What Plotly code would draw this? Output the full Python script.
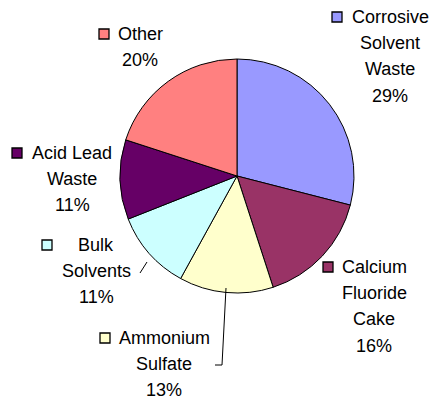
import plotly.graph_objects as go

W, H = 435, 402

LABELS = ["Corrosive Solvent Waste", "Calcium Fluoride Cake", "Ammonium Sulfate",
          "Bulk Solvents", "Acid Lead Waste", "Other"]
VALUES = [29, 16, 13, 11, 11, 20]
COLORS = ["#9999FF", "#993366", "#FFFFCC", "#CCFFFF", "#660066", "#FF8080"]

# label layout: text lines, centre x, first line y (pixels), key square x
LABEL_LINES = [
    ["Corrosive", "Solvent", "Waste"],
    ["Calcium", "Fluoride", "Cake"],
    ["Ammonium", "Sulfate"],
    ["Bulk", "Solvents"],
    ["Acid Lead", "Waste"],
    ["Other"],
]
LABEL_POS = [(390, 17, 337), (374, 267, 328), (164, 338, 105),
             (96, 245, 47), (72, 153, 17), (140, 34, 104)]
LINE_H = 26.2


def px(x, y):
    return x / W, 1 - y / H


fig = go.Figure(go.Pie(
    labels=LABELS, values=VALUES,
    marker=dict(colors=COLORS, line=dict(color="black", width=1)),
    sort=False, direction="clockwise", rotation=0,
    textinfo="none", hoverinfo="label+percent",
    domain=dict(x=[120 / W, 354 / W], y=[1 - 293 / H, 1 - 59 / H]),
    showlegend=False,
))

annotations = []
shapes = []
for lines, val, col, (cx, y0, kx) in zip(LABEL_LINES, VALUES, COLORS, LABEL_POS):
    for i, t in enumerate(lines + [f"{val}%"]):
        x, y = px(cx, y0 + i * LINE_H)
        annotations.append(dict(
            x=x, y=y, xref="paper", yref="paper", text=t, showarrow=False,
            xanchor="center", yanchor="middle",
            font=dict(family="Liberation Sans, Arial, sans-serif", size=18, color="black"),
        ))
    x0, y1 = px(kx - 5, y0 - 5)
    x1, y2 = px(kx + 5, y0 + 5)
    shapes.append(dict(type="rect", xref="paper", yref="paper", x0=x0, x1=x1, y0=y2, y1=y1,
                       fillcolor=col, line=dict(color="black", width=1.3)))

# leader lines
for pts in [[(140, 273), (147, 262)], [(215, 365), (222, 365), (226, 288)]]:
    path = "M " + " L ".join(f"{px(a, b)[0]},{px(a, b)[1]}" for a, b in pts)
    shapes.append(dict(type="path", xref="paper", yref="paper", path=path,
                       line=dict(color="black", width=1)))

fig.update_layout(
    width=W, height=H,
    margin=dict(l=0, r=0, t=0, b=0),
    paper_bgcolor="white", plot_bgcolor="white",
    annotations=annotations, shapes=shapes,
)

fig.write_html(
    "out.html",
    config={"displayModeBar": False},
    post_script="document.body.style.margin='0';document.body.style.overflow='hidden';",
)
